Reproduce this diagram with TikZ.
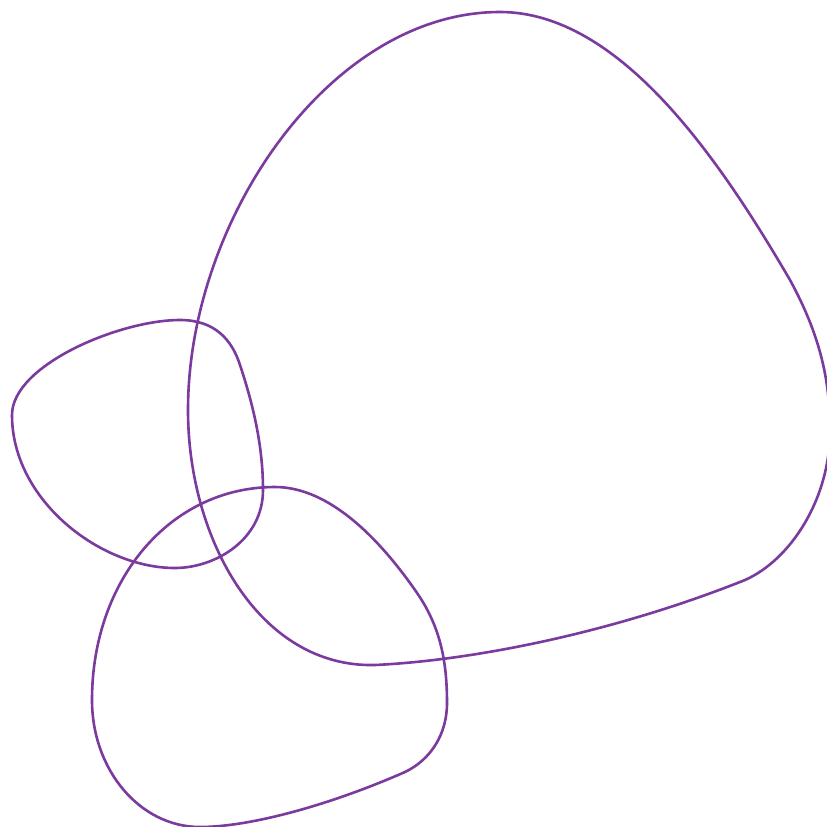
\documentclass[tikz,border=0pt]{standalone}
\begin{document}
\begin{tikzpicture}[x=1pt,y=-1pt,
  blob/.style={draw=curvecol,line width=2.6pt}]
\definecolor{curvecol}{HTML}{7B3A9E}
\useasboundingbox[fill=white] (0,0) rectangle (827,827);
\draw[blob] (500,12) .. controls (620,12) and (720,160) .. (790,280)
  .. controls (820,335) and (830,380) .. (830,430)
  .. controls (830,500) and (790,560) .. (745,580)
  .. controls (620,630) and (480,660) .. (375,665)
  .. controls (260,668) and (188,540) .. (188,410)
  .. controls (188,220) and (330,12) .. (500,12) -- cycle;
\draw[blob] (180,320) .. controls (215,320) and (232,340) .. (240,365)
  .. controls (255,410) and (263,450) .. (263,490)
  .. controls (263,540) and (215,568) .. (175,568)
  .. controls (100,568) and (12,500) .. (12,415)
  .. controls (12,365) and (120,320) .. (180,320) -- cycle;
\draw[blob] (275,487) .. controls (330,487) and (380,540) .. (415,590)
  .. controls (440,625) and (447,660) .. (447,703)
  .. controls (447,735) and (430,760) .. (405,772)
  .. controls (330,805) and (250,827) .. (200,827)
  .. controls (140,827) and (92,770) .. (92,700)
  .. controls (92,580) and (170,487) .. (275,487) -- cycle;
\end{tikzpicture}
\end{document}
